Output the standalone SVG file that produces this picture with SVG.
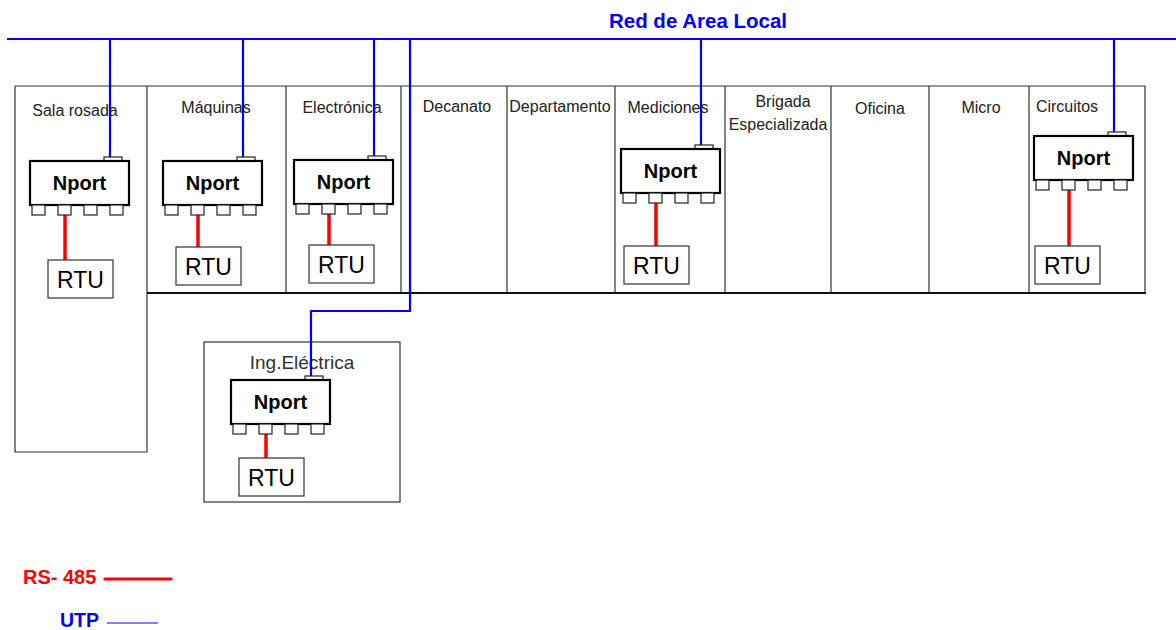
<svg xmlns="http://www.w3.org/2000/svg" width="1176" height="630" viewBox="0 0 1176 630">
<style>
.room{fill:none;stroke:#333;stroke-width:1.2}
.lbl{font-family:"Liberation Sans",Arial,sans-serif;font-size:16px;fill:#222;text-anchor:middle}
.np{fill:#fff;stroke:#000;stroke-width:2.2}
.port{fill:#fff;stroke:#222;stroke-width:1.2}
.npt{font-family:"Liberation Sans",Arial,sans-serif;font-size:20px;font-weight:bold;fill:#000;text-anchor:middle}
.rtu{fill:#fff;stroke:#333;stroke-width:1.2}
.rtut{font-family:"Liberation Sans",Arial,sans-serif;font-size:23px;fill:#000;text-anchor:middle}
.utp{fill:none;stroke:#0000ff;stroke-width:2.2}
.rs{fill:none;stroke:#ff0000;stroke-width:3.5}
</style>
<defs>
<g id="nport">
<rect class="port" x="74" y="-4" width="18" height="4"/>
<rect class="np" x="0" y="0" width="99" height="44"/>
<rect class="port" x="2" y="44" width="13" height="10"/>
<rect class="port" x="28" y="44" width="13" height="10"/>
<rect class="port" x="54" y="44" width="13" height="10"/>
<rect class="port" x="80" y="44" width="13" height="10"/>
<text class="npt" x="49.5" y="29">Nport</text>
</g>
<g id="rtu">
<rect class="rtu" x="0" y="0" width="65" height="38"/>
<text class="rtut" x="32.5" y="28">RTU</text>
</g>
</defs>

<g id="building">
<path class="room" d="M15,86 H1145 V293 M15,86 V452 H147 V86 M286,86 V293 M401,86 V293 M507,86 V293 M615,86 V293 M725,86 V293 M831,86 V293 M929,86 V293 M1029,86 V293"/>
<line x1="147" y1="293" x2="1146" y2="293" stroke="#111" stroke-width="2"/>
<rect class="room" x="204" y="342" width="196" height="160"/>
</g>

<g id="labels">
<text class="lbl" x="75" y="116">Sala rosada</text>
<text class="lbl" x="216" y="113">Máquinas</text>
<text class="lbl" x="342" y="113">Electrónica</text>
<text class="lbl" x="457" y="112">Decanato</text>
<text class="lbl" x="560" y="112">Departamento</text>
<text class="lbl" x="668" y="113">Mediciones</text>
<text class="lbl" x="783" y="107">Brigada</text>
<text class="lbl" x="778" y="130">Especializada</text>
<text class="lbl" x="880" y="114">Oficina</text>
<text class="lbl" x="981" y="113">Micro</text>
<text class="lbl" x="1067" y="112">Circuitos</text>
<text class="lbl" x="302" y="369" style="font-size:19px;fill:#333">Ing.Eléctrica</text>
</g>

<g id="connectors">
<line class="utp" x1="7" y1="39" x2="1176" y2="39" stroke-width="2.8"/>
<line class="utp" x1="110" y1="39" x2="110" y2="157"/>
<line class="utp" x1="243" y1="39" x2="243" y2="157"/>
<line class="utp" x1="374" y1="39" x2="374" y2="156"/>
<line class="utp" x1="701" y1="39" x2="701" y2="145"/>
<line class="utp" x1="1114" y1="39" x2="1114" y2="132"/>
<polyline class="utp" points="410,39 410,311 311,311 311,376"/>
<line class="rs" x1="65" y1="215" x2="65" y2="260"/>
<line class="rs" x1="198" y1="215" x2="198" y2="247"/>
<line class="rs" x1="329" y1="214" x2="329" y2="245"/>
<line class="rs" x1="656" y1="203" x2="656" y2="246"/>
<line class="rs" x1="1069" y1="190" x2="1069" y2="246"/>
<line class="rs" x1="266" y1="434" x2="266" y2="458"/>
</g>

<g id="nport-sala"><use href="#nport" x="30" y="161"/></g>
<g id="nport-maquinas"><use href="#nport" x="163" y="161"/></g>
<g id="nport-electronica"><use href="#nport" x="294" y="160"/></g>
<g id="nport-mediciones"><use href="#nport" x="621" y="149"/></g>
<g id="nport-circuitos"><use href="#nport" x="1034" y="136"/></g>
<g id="nport-ing"><use href="#nport" x="231" y="380"/></g>

<g id="rtu-sala"><use href="#rtu" x="48" y="260"/></g>
<g id="rtu-maquinas"><use href="#rtu" x="176" y="247"/></g>
<g id="rtu-electronica"><use href="#rtu" x="309" y="245"/></g>
<g id="rtu-mediciones"><use href="#rtu" x="624" y="246"/></g>
<g id="rtu-circuitos"><use href="#rtu" x="1035" y="246"/></g>
<g id="rtu-ing"><use href="#rtu" x="239" y="458"/></g>

<g id="title">
<text x="698" y="28" style="font-family:'Liberation Sans',Arial,sans-serif;font-size:20.5px;font-weight:bold;fill:#0000ff;text-anchor:middle">Red de Area Local</text>
</g>

<g id="legend">
<text x="23" y="584" style="font-family:'Liberation Sans',Arial,sans-serif;font-size:20px;font-weight:bold;fill:#ff0000">RS- 485</text>
<line x1="105" y1="579" x2="171" y2="579" stroke="#ff0000" stroke-width="3.2" stroke-linecap="round"/>
<text x="60" y="627" style="font-family:'Liberation Sans',Arial,sans-serif;font-size:19.5px;font-weight:bold;fill:#0000ff">UTP</text>
<line x1="107" y1="623" x2="158" y2="623" stroke="#0000ff" stroke-width="1.2"/>
</g>
</svg>
